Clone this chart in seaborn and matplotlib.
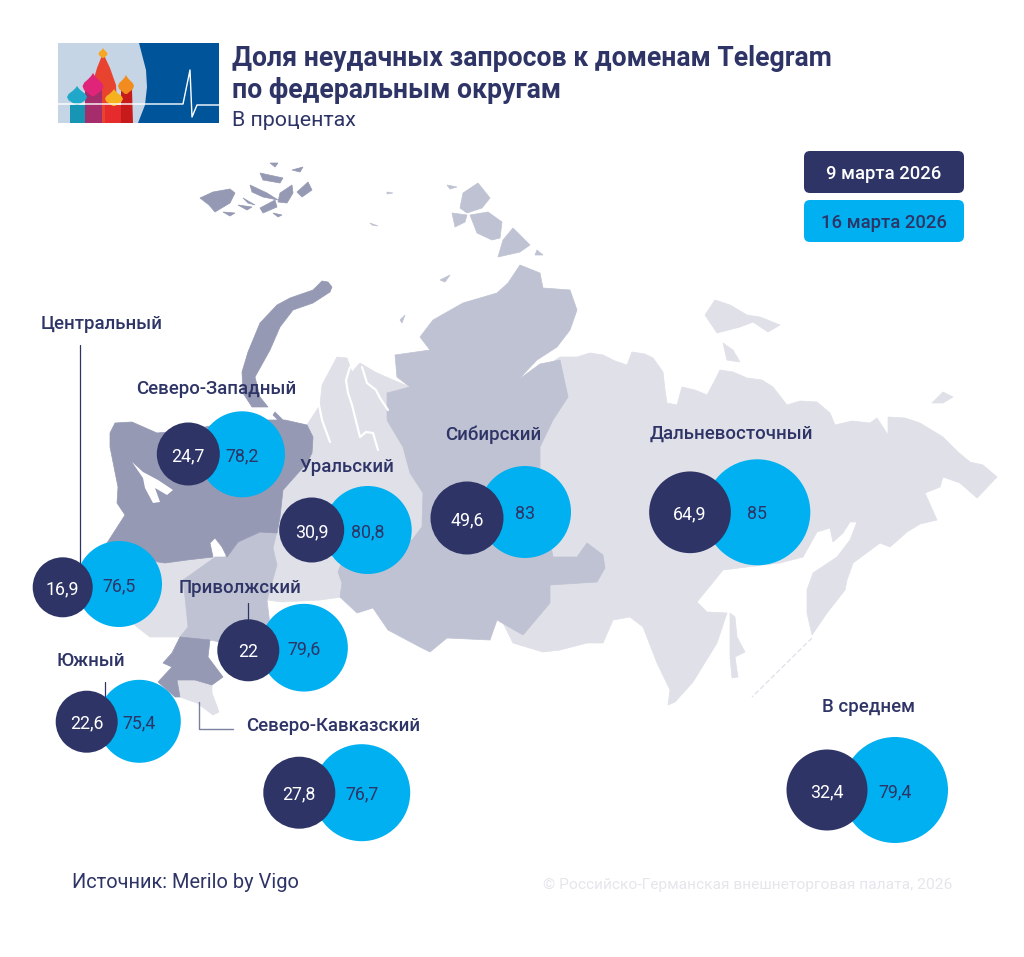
"""Failed Telegram requests by federal district, drawn over a schematic map."""

import matplotlib

matplotlib.use("Agg")
import matplotlib.pyplot as plt
import pandas as pd
import seaborn as sns
from matplotlib.patches import FancyBboxPatch, Polygon

# values
DISTRICTS = ["Центральный", "Северо-Западный", "Уральский", "Приволжский", "Южный",
             "Северо-Кавказский", "Сибирский", "Дальневосточный", "В среднем"]
MARCH_9 = [16.9, 24.7, 30.9, 22, 22.6, 27.8, 49.6, 64.9, 32.4]
MARCH_16 = [76.5, 78.2, 80.8, 79.6, 75.4, 76.7, 83, 85, 79.4]
LEGEND_LABELS = ["9 марта 2026", "16 марта 2026"]

# bubble layout, pixels of the reference
X_9 = [62.7, 188.3, 311.7, 248.3, 86.7, 299.3, 467, 690, 827]
Y_9 = [587.3, 454, 530, 650.3, 721.7, 792.7, 518, 512.3, 790]
D_9 = [60, 63, 65, 62, 62, 72, 73, 81.7, 81]
X_16 = [119, 242, 367.7, 304, 139.3, 361.7, 525, 757.3, 895]
Y_16 = [584, 454.3, 530, 647.7, 721.3, 792.7, 512, 512.3, 790]
D_16 = [86, 86, 88, 87.7, 83, 97, 92, 106, 106]
LABEL_X = [41, 136, 300, 179, 56, 246, 445, 650, 822]
LABEL_Y = [322, 387, 465, 586, 659, 724, 433, 432, 705]

NAVY = "#2E3466"
CYAN = "#00B0F0"
MAP_DARK = "#9599B3"
MAP_MID = "#BFC2D2"
MAP_LIGHT = "#DFE0E8"

FAR_EAST = [(540, 370), (560, 357), (577, 357), (590, 353), (603, 355), (615, 361), (627, 365), (632, 352), (645, 354),
            (653, 358), (663, 372), (665, 390), (667, 403), (677, 405), (682, 387), (695, 390), (707, 395), (714, 382),
            (720, 370), (733, 372), (747, 378), (762, 380), (773, 387), (787, 405), (800, 401), (817, 402), (830, 413),
            (835, 425), (852, 421), (870, 423), (877, 418), (888, 435), (888, 417), (905, 418), (920, 423), (943, 437),
            (958, 452), (970, 462), (983, 465), (997, 477), (977, 498), (968, 490), (960, 483), (943, 477), (940, 487),
            (925, 493), (937, 520), (920, 524), (907, 532), (890, 547), (880, 543), (853, 563), (847, 580), (845, 590),
            (827, 613), (812, 635), (807, 613), (807, 590), (813, 573), (837, 557), (850, 540), (857, 522), (850, 522),
            (843, 533), (833, 542), (830, 528), (817, 532), (803, 557), (780, 563), (747, 567), (723, 570), (697, 602),
            (707, 612), (727, 613), (717, 643), (693, 682), (675, 702), (668, 705), (670, 690), (657, 663), (643, 627),
            (630, 617), (613, 620), (603, 643), (587, 643), (560, 650), (543, 652), (513, 643), (500, 617), (490, 600),
            (520, 480)]
SAKHALIN = [(730, 613), (735, 617), (737, 637), (745, 652), (735, 657), (738, 677), (732, 678), (730, 657)]
FAR_EAST_ISLANDS = [
    [(705, 315), (715, 300), (730, 305), (747, 315), (760, 317), (780, 325), (768, 332), (753, 322), (740, 327), (717, 333)],
    [(932, 403), (943, 392), (953, 397), (943, 403)],
    [(723, 343), (733, 350), (740, 362), (727, 360)],
]
URAL = [(277, 534), (283, 490), (307, 463), (312, 445), (305, 428), (320, 405), (322, 385), (337, 357), (347, 358),
        (352, 372), (360, 363), (375, 372), (393, 380), (410, 387), (430, 480), (420, 540), (342, 597), (320, 600),
        (282, 602), (267, 600), (277, 565), (273, 548)]
SIBERIA = [(395, 355), (430, 350), (420, 337), (433, 320), (463, 303), (497, 293), (508, 283), (520, 265), (540, 273),
           (543, 288), (570, 290), (577, 310), (570, 330), (557, 347), (537, 360), (518, 380), (540, 364), (560, 360),
           (568, 397), (553, 420), (540, 447), (540, 483), (553, 557), (577, 557), (587, 543), (603, 555), (605, 568),
           (597, 582), (550, 585), (550, 603), (523, 635), (497, 620), (490, 640), (447, 638), (430, 652), (420, 647),
           (388, 630), (373, 608), (357, 613), (340, 597), (342, 583), (338, 572), (345, 555), (412, 540), (422, 527),
           (423, 493), (410, 473), (403, 447), (387, 420), (387, 393), (410, 387), (397, 377)]
SIBERIA_ISLANDS = [
    [(478, 183), (490, 198), (482, 208), (467, 213), (460, 208), (463, 193)],
    [(452, 213), (467, 215), (465, 222), (455, 227)],
    [(470, 215), (488, 212), (502, 222), (500, 238), (492, 240), (477, 233)],
    [(513, 228), (530, 245), (520, 252), (498, 257), (503, 240)],
    [(537, 250), (543, 255), (535, 255)],
    [(447, 185), (457, 187), (450, 189)],
    [(387, 192), (393, 193), (387, 194)],
    [(370, 223), (378, 226), (372, 225)],
    [(440, 280), (450, 275), (445, 282)],
    [(400, 320), (405, 315), (402, 323)],
]
VOLGA = [(215, 557), (225, 557), (238, 542), (260, 532), (277, 532), (273, 548), (277, 565), (267, 600), (270, 625),
         (220, 642), (210, 640), (180, 637), (188, 627), (185, 597), (183, 580), (200, 568)]
CENTRAL = [(125, 550), (158, 562), (187, 560), (213, 557), (200, 568), (183, 580), (185, 597), (188, 627), (180, 637),
           (150, 637), (137, 627), (110, 600)]
NORTH_WEST = [(110, 433), (115, 423), (132, 422), (157, 433), (190, 430), (240, 420), (285, 420), (307, 425), (313, 437),
              (312, 453), (307, 463), (283, 490), (280, 517), (277, 533), (260, 532), (238, 542), (227, 557), (222, 547),
              (215, 538), (210, 543), (213, 557), (187, 560), (165, 563), (158, 562), (107, 543), (125, 515), (117, 503),
              (118, 487), (110, 447)]
LADOGA = [(132, 462), (143, 472), (158, 480), (173, 490), (167, 495), (155, 488), (160, 502), (153, 503), (145, 488), (143, 478)]
SOUTH = [(180, 637), (210, 640), (208, 657), (223, 677), (212, 685), (195, 680), (177, 680), (180, 697), (175, 697),
         (158, 682), (172, 667), (163, 663), (172, 653)]
NORTH_CAUCASUS = [(177, 680), (195, 680), (212, 685), (212, 693), (219, 712), (213, 715), (197, 703), (180, 697)]
NOVAYA_ZEMLYA = [(332, 287), (328, 282), (322, 281), (313, 290), (290, 298), (277, 305), (260, 323), (248, 352), (242, 372),
                 (243, 393), (252, 407), (268, 407), (260, 397), (255, 377), (270, 350), (280, 327), (293, 310), (313, 303),
                 (330, 292)]
DARK_ISLANDS = [
    [(275, 412), (283, 420), (280, 422), (273, 415)],
    [(200, 198), (213, 192), (230, 189), (235, 193), (230, 203), (215, 212), (209, 205)],
    [(250, 185), (267, 193), (278, 200), (263, 197), (252, 192)],
    [(280, 193), (292, 185), (293, 193), (287, 203), (278, 202)],
    [(297, 192), (308, 182), (312, 190), (302, 197)],
    [(260, 208), (275, 200), (277, 207), (263, 213)],
    [(270, 163), (278, 163), (275, 167)],
    [(292, 170), (303, 167), (300, 172)],
    [(260, 173), (283, 178), (280, 183), (263, 180)],
    [(238, 205), (252, 207), (247, 210)],
    [(223, 212), (235, 213), (230, 216)],
    [(273, 213), (282, 215), (278, 217)],
    [(243, 198), (255, 205), (248, 203)],
]
WHITE_GULFS = [
    [(350, 367), (346, 380), (348, 393), (352, 405), (355, 417), (360, 437), (366, 432), (373, 433), (378, 450)],
    [(362, 367), (367, 383), (376, 390), (380, 398), (388, 410)],
    [(318, 400), (322, 420), (330, 442)],
]
ONION = [(-0.06, 0), (-0.2, -0.1), (-0.42, -0.25), (-0.5, -0.42), (-0.42, -0.58), (-0.22, -0.74), (-0.08, -0.88), (0, -1),
         (0.08, -0.88), (0.22, -0.74), (0.42, -0.58), (0.5, -0.42), (0.42, -0.25), (0.2, -0.1), (0.06, 0)]


def draw_map(ax):
    """Paint the districts back to front."""
    for shape in [FAR_EAST, SAKHALIN, URAL, CENTRAL, NORTH_CAUCASUS] + FAR_EAST_ISLANDS:
        ax.add_patch(Polygon(shape, fc=MAP_LIGHT, ec=MAP_LIGHT, lw=0.5))
    for shape in [SIBERIA, VOLGA] + SIBERIA_ISLANDS:
        ax.add_patch(Polygon(shape, fc=MAP_MID, ec=MAP_MID, lw=0.5))
    for shape in [NORTH_WEST, SOUTH, NOVAYA_ZEMLYA] + DARK_ISLANDS:
        ax.add_patch(Polygon(shape, fc=MAP_DARK, ec=MAP_DARK, lw=0.5))
    ax.add_patch(Polygon(LADOGA, fc="white", ec="none"))
    for gulf in WHITE_GULFS:
        ax.plot(*zip(*gulf), color="white", lw=1.6)
    ax.plot([812, 752], [638, 697], color=MAP_LIGHT, lw=0.9, ls=(0, (4, 2)))


def onion(ax, cx, base, width, height, color, zorder=3):
    ax.add_patch(Polygon([(cx + x * width, base + y * height) for x, y in ONION], fc=color, ec="none", zorder=zorder))


def draw_logo(ax):
    """Small header picture: cathedral and pulse line."""
    ax.add_patch(Polygon([(58, 43), (219, 43), (219, 123), (58, 123)], fc="#C6D5E5", ec="none"))
    ax.add_patch(Polygon([(139, 43), (219, 43), (219, 123), (138, 123), (145, 105), (147, 87), (146, 70)], fc="#00549A", ec="none"))
    ax.add_patch(Polygon([(103, 53), (110, 68), (116, 85), (118, 123), (90, 123), (92, 85), (97, 68)], fc="#E8432E", ec="none"))
    ax.add_patch(Polygon([(70, 105), (85, 105), (85, 123), (70, 123)], fc="#1795B5", ec="none", zorder=2))
    ax.add_patch(Polygon([(85, 90), (102, 90), (102, 123), (85, 123)], fc="#A52D6B", ec="none", zorder=2))
    ax.add_patch(Polygon([(105, 105), (123, 105), (123, 123), (105, 123)], fc="#E52B2B", ec="none", zorder=2))
    ax.add_patch(Polygon([(121, 90), (132, 90), (133, 123), (121, 123)], fc="#C71B1B", ec="none", zorder=2))
    onion(ax, 103, 58, 9, 10, "#F6A623")
    onion(ax, 77, 105, 20, 19, "#1FA8C9")
    onion(ax, 93, 96, 21, 23, "#E0247A")
    onion(ax, 126, 94, 16, 19, "#F28C1E")
    onion(ax, 114, 106, 18, 17, "#F6B21E")
    ax.plot([58, 183, 190, 192, 197, 219], [104, 104, 70, 117, 105, 105], color="white", lw=1, zorder=4)


def main():
    sns.set_theme(style="white")
    plt.rcParams["font.family"] = ["Roboto", "DejaVu Sans"]

    fig = plt.figure(figsize=(10.24, 9.57), dpi=100)
    ax = fig.add_axes([0, 0, 1, 1])
    draw_map(ax)
    draw_logo(ax)

    # leader lines
    ax.plot([80.3, 80.3], [345, 565], color=NAVY, lw=0.9)
    ax.plot([247.7, 247.7], [603, 625], color=NAVY, lw=0.9)
    ax.plot([105, 105], [682, 700], color=NAVY, lw=0.9)
    ax.plot([199.3, 199.3, 233], [702, 729, 729], color="#7C80A0", lw=1)

    bubbles = pd.concat([
        pd.DataFrame({"x": X_16, "y": Y_16, "value": MARCH_16, "d": D_16, "date": LEGEND_LABELS[1]}),
        pd.DataFrame({"x": X_9, "y": Y_9, "value": MARCH_9, "d": D_9, "date": LEGEND_LABELS[0]}),
    ])
    palette = {LEGEND_LABELS[0]: NAVY, LEGEND_LABELS[1]: CYAN}
    for date, frame in bubbles.groupby("date", sort=False):
        sns.scatterplot(
            data=frame, x="x", y="y", hue="date", palette=palette, size="value",
            sizes={v: (0.72 * d) ** 2 for v, d in zip(frame["value"], frame["d"])},
            linewidth=0, legend=False, ax=ax, zorder=5 if date == LEGEND_LABELS[0] else 4,
        )
        color = "white" if date == LEGEND_LABELS[0] else NAVY
        for _, row in frame.iterrows():
            ax.text(row["x"], row["y"], f"{row['value']:g}".replace(".", ","), color=color, fontsize=12.8,
                    ha="center", va="center_baseline", zorder=6)

    for name, x, y in zip(DISTRICTS, LABEL_X, LABEL_Y):
        ax.text(x, y, name, color=NAVY, fontsize=13.4, weight="medium", ha="left", va="center_baseline", zorder=7)

    # title block
    ax.text(232, 55, "Доля неудачных запросов к доменам Telegram", color=NAVY, fontsize=19.2, weight="bold",
            ha="left", va="center_baseline")
    ax.text(232, 87, "по федеральным округам", color=NAVY, fontsize=19.2, weight="bold", ha="left", va="center_baseline")
    ax.text(232, 118, "В процентах", color=NAVY, fontsize=15.4, ha="left", va="center_baseline")

    # legend boxes
    for label, top, face, ink in zip(LEGEND_LABELS, [151, 200], [NAVY, CYAN], ["white", NAVY]):
        ax.add_patch(FancyBboxPatch((808, top + 4), 152, 34, boxstyle="round,pad=4,rounding_size=6", fc=face, ec="none"))
        ax.text(884, top + 21, label, color=ink, fontsize=13.3, weight="medium", ha="center", va="center_baseline")

    ax.text(72, 880, "Источник: Merilo by Vigo", color=NAVY, fontsize=14.4, ha="left", va="center_baseline")
    ax.text(952, 883, "© Российско-Германская внешнеторговая палата, 2026", color="#E4E6EC", fontsize=11.15,
            ha="right", va="center_baseline")

    ax.set_xlim(0, 1024)
    ax.set_ylim(957, 0)
    ax.set_xlabel("")
    ax.set_ylabel("")
    ax.axis("off")
    fig.savefig("out.png", dpi=100, facecolor="white")
    plt.close(fig)


if __name__ == "__main__":
    main()
